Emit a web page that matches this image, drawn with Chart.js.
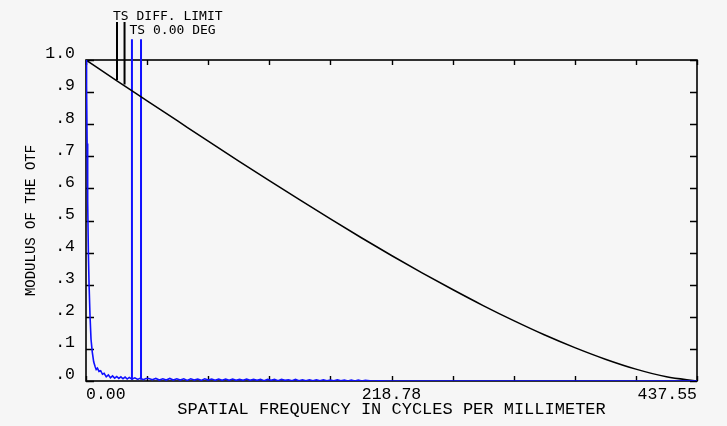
<!DOCTYPE html>
<html><head><meta charset="utf-8">
<style>html,body{margin:0;padding:0;background:#f6f6f6;}#wrap{width:727px;height:426px;position:relative;}</style>
<script src="https://cdn.jsdelivr.net/npm/chart.js@4/dist/chart.umd.min.js"></script>
</head><body><div id="wrap"><canvas id="c" width="727" height="426"></canvas></div>
<script>
// ---- data ----
const xTickValues = [0, 43.755, 87.51, 131.265, 175.02, 218.775, 262.53, 306.285, 350.04, 393.795, 437.55];
const xTickLabels = ['0.00', '', '', '', '', '218.78', '', '', '', '', '437.55'];
const yTickValues = [0, 0.1, 0.2, 0.3, 0.4, 0.5, 0.6, 0.7, 0.8, 0.9, 1.0];
const yTickLabels = ['.0', '.1', '.2', '.3', '.4', '.5', '.6', '.7', '.8', '.9', '1.0'];

// TS diffraction limit
const diffFreq = [0, 21.88, 43.76, 65.63, 87.51, 109.39, 131.27, 153.14, 175.02, 196.90, 218.78,
                  240.65, 262.53, 284.41, 306.29, 328.16, 350.04, 371.92, 393.80, 415.67, 437.55];
const diffMtf  = [1.000, 0.936, 0.873, 0.810, 0.747, 0.685, 0.624, 0.564, 0.505, 0.447, 0.391,
                  0.337, 0.285, 0.235, 0.188, 0.144, 0.104, 0.068, 0.037, 0.013, 0.000];

// TS 0.00 DEG
const tsFreq = [0, 0.4, 0.8, 1.2, 1.7, 2.2, 2.9, 3.6, 4.5, 5.5, 6.5, 7.3, 8.2, 9.3, 10.5, 11.8, 13, 14.5, 16, 17.5,
                19, 20.5, 22, 23.5, 25, 26.5, 28, 29.5, 31, 33, 35, 37, 39, 41, 43,
                45, 47.5, 50, 52.5, 55, 57.5, 60, 62.5, 65, 67.5, 70, 72.5, 75, 77.5, 80, 82.5, 85, 87.5, 90, 92.5,
                95, 97.5, 100, 102.5, 105, 107.5, 110, 112.5, 115, 117.5, 120, 122.5, 125, 127.5, 130, 132.5,
                135, 137.5, 140, 142.5, 145, 147.5, 150, 152.5, 155, 157.5, 160, 162.5, 165, 167.5, 170, 172.5,
                175, 177.5, 180, 182.5, 185, 187.5, 190, 192.5, 195, 197.5, 200, 205, 210, 215, 437.55];
const tsMtf  = [1.0, 0.92, 0.74, 0.56, 0.40, 0.30, 0.20, 0.13, 0.09, 0.06, 0.045, 0.036, 0.040, 0.030, 0.032, 0.021, 0.024, 0.013, 0.019, 0.010,
                0.016, 0.009, 0.014, 0.008, 0.013, 0.007, 0.012, 0.006, 0.011, 0.006, 0.010, 0.005, 0.009, 0.004, 0.008,
                0.008, 0.004, 0.008, 0.003, 0.007, 0.003, 0.008, 0.003, 0.007, 0.003, 0.007, 0.002, 0.007, 0.003, 0.006, 0.002, 0.007, 0.003, 0.006, 0.002,
                0.006, 0.002, 0.006, 0.002, 0.006, 0.002, 0.005, 0.002, 0.006, 0.002, 0.005, 0.002, 0.005, 0.001, 0.005, 0.002,
                0.005, 0.001, 0.005, 0.002, 0.004, 0.001, 0.005, 0.001, 0.004, 0.001, 0.004, 0.001, 0.004, 0.001, 0.004, 0.001,
                0.003, 0.001, 0.004, 0.001, 0.003, 0.000, 0.003, 0.000, 0.003, 0.000, 0.002, 0.000, 0.001, 0.000, 0.000];

// legend leader lines (frequency, top value, end value)
const leaderBlackFreq = [22.2, 27.6];
const leaderBlackTop  = [1.118, 1.118];
const leaderBlackEnd  = [0.938, 0.924];
const leaderBlueFreq  = [32.9, 39.4];
const leaderBlueTop   = [1.065, 1.065];
const leaderBlueEnd   = [0.004, 0.004];

const legendLabels = ['TS DIFF. LIMIT', 'TS 0.00 DEG'];
const xTitle = 'SPATIAL FREQUENCY IN CYCLES PER MILLIMETER';
const yTitle = 'MODULUS OF THE OTF';

// ---- build ----
const BLUE = '#1010ff';
const pts = (xs, ys) => xs.map((v, i) => ({x: v, y: ys[i]}));
const leaders = [];
leaderBlackFreq.forEach((f, i) => leaders.push({
  data: [{x: f, y: leaderBlackTop[i]}, {x: f, y: leaderBlackEnd[i]}],
  borderColor: '#000', borderWidth: 2, pointRadius: 0, clip: false, tension: 0
}));
leaderBlueFreq.forEach((f, i) => leaders.push({
  data: [{x: f, y: leaderBlueTop[i]}, {x: f, y: leaderBlueEnd[i]}],
  borderColor: BLUE, borderWidth: 2, pointRadius: 0, clip: false, tension: 0
}));

const framePlugin = {
  id: 'frame',
  beforeDatasetsDraw(chart) {
    const {ctx, chartArea: {left, right, top, bottom}, scales: {x, y}} = chart;
    ctx.save();
    ctx.strokeStyle = '#000';
    ctx.lineWidth = 1.6;
    ctx.strokeRect(left, top, right - left, bottom - top);
    ctx.lineWidth = 1.4;
    ctx.beginPath();
    x.ticks.forEach(t => {
      const px = Math.round(x.getPixelForValue(t.value)) + 0.5;
      ctx.moveTo(px, top); ctx.lineTo(px, top + 5);
      ctx.moveTo(px, bottom); ctx.lineTo(px, bottom - 5);
    });
    y.ticks.forEach(t => {
      const py = Math.round(y.getPixelForValue(t.value)) + 0.5;
      ctx.moveTo(left, py); ctx.lineTo(left + 8, py);
      ctx.moveTo(right, py); ctx.lineTo(right - 7, py);
    });
    ctx.stroke();
    ctx.restore();
  },
  afterDraw(chart) {
    const {ctx, chartArea: {top}, scales: {x}} = chart;
    ctx.save();
    ctx.fillStyle = '#000';
    ctx.font = '13px "DejaVu Sans Mono"';
    ctx.textBaseline = 'middle';
    ctx.textAlign = 'left';
    ctx.fillText(legendLabels[0], x.getPixelForValue(leaderBlackFreq[0]) - 4, top - 43);
    ctx.fillText(legendLabels[1], x.getPixelForValue(leaderBlackFreq[1]) + 5, top - 29);
    ctx.restore();
  }
};

new Chart(document.getElementById('c'), {
  type: 'line',
  data: {
    datasets: [
      {data: pts(tsFreq, tsMtf), borderColor: BLUE, borderWidth: 1.6, pointRadius: 0, tension: 0},
      {data: pts(diffFreq, diffMtf), borderColor: '#000', borderWidth: 1.5, pointRadius: 0, cubicInterpolationMode: 'monotone'},
      ...leaders
    ]
  },
  options: {
    responsive: false,
    devicePixelRatio: 1,
    animation: false,
    events: [],
    layout: {padding: {left: 0, right: 30, top: 60, bottom: 0}},
    plugins: {legend: {display: false}, tooltip: {enabled: false}},
    scales: {
      x: {
        type: 'linear', min: 0, max: 437.55,
        grid: {display: false, drawTicks: false}, border: {display: false},
        afterBuildTicks: s => { s.ticks = xTickValues.map(v => ({value: v})); },
        afterFit: s => { s.height = 45; s.paddingLeft = 0; s.paddingRight = 0; },
        ticks: {
          autoSkip: false, maxRotation: 0, align: 'inner', padding: 4, color: '#000',
          font: {family: '"Liberation Mono"', size: 16.5},
          callback: (v, i) => xTickLabels[i]
        },
        title: {display: true, text: xTitle, color: '#000', font: {family: '"Liberation Mono"', size: 17}, padding: {top: 0, bottom: 6}}
      },
      y: {
        type: 'linear', min: 0, max: 1,
        grid: {display: false, drawTicks: false}, border: {display: false},
        afterBuildTicks: s => { s.ticks = yTickValues.map(v => ({value: v})); },
        afterFit: s => { s.width = 86; s.paddingTop = 0; s.paddingBottom = 0; },
        ticks: {
          autoSkip: false, padding: 11, labelOffset: -6, color: '#000',
          font: {family: '"Liberation Mono"', size: 16.5},
          callback: (v, i) => yTickLabels[i]
        },
        title: {display: true, text: yTitle, color: '#000', font: {family: '"Liberation Mono"', size: 14}, padding: {top: 23, bottom: 0}}
      }
    }
  },
  plugins: [framePlugin]
});
</script>
</body></html>
